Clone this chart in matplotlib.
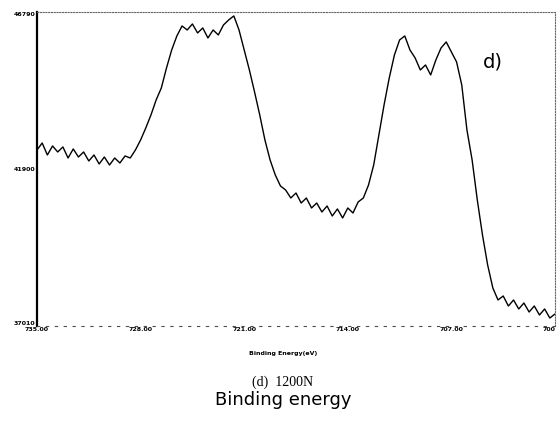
import numpy as np
import matplotlib.pyplot as plt

# binding energy scan, 0.35 eV steps from 735 down to 700 eV
energy = np.linspace(735.0, 700.0, 101)

# measured counts at each step
counts = [
    42492, 42710, 42337, 42617, 42430, 42586, 42243, 42524, 42274, 42430,
    42150, 42337, 42056, 42274, 42025, 42243, 42087, 42306, 42243, 42492,
    42804, 43178, 43583, 44050, 44424, 45047, 45607, 46044, 46355, 46230,
    46417, 46137, 46293, 45981, 46230, 46075, 46386, 46542, 46667, 46230,
    45607, 44984, 44299, 43583, 42804, 42181, 41714, 41371, 41246, 40997,
    41153, 40841, 40997, 40686, 40841, 40561, 40748, 40437, 40655, 40374,
    40686, 40530, 40873, 40997, 41402, 42025, 42960, 43894, 44735, 45452,
    45919, 46044, 45607, 45358, 44984, 45140, 44829, 45296, 45670, 45857,
    45545, 45234, 44517, 43115, 42181, 40935, 39845, 38910, 38194, 37820,
    37945, 37633, 37820, 37540, 37726, 37446, 37633, 37353, 37540, 37259,
    37384,
]

x_ticks = [735.0, 728.0, 721.0, 714.0, 707.0, 700.0]
x_tick_labels = ["735.00", "728.00", "721.00", "714.00", "707.00", "700"]
y_ticks = [37010, 41900, 46790]
y_tick_labels = ["37010", "41900", "46790"]

fig = plt.figure(figsize=(5.59, 4.25), dpi=100)
ax = fig.add_axes([37 / 559, 1 - 326 / 425, 518 / 559, 314 / 425])

ax.plot(energy, counts, color="black", lw=1.0)

ax.set_xlim(735.0, 700.0)
ax.set_ylim(37010, 46790)
ax.set_xticks(x_ticks)
ax.set_xticklabels(x_tick_labels, fontsize=4.5, fontweight="bold")
ax.set_yticks(y_ticks)
ax.set_yticklabels(y_tick_labels, fontsize=4.5, fontweight="bold")
ax.tick_params(length=0, pad=1)

xlabels = ax.get_xticklabels()
xlabels[-1].set_ha("right")
ylabels = ax.get_yticklabels()
ylabels[0].set_va("bottom")
ylabels[-1].set_va("top")

# scanned-style frame: solid left edge, broken dotted others
ax.spines["left"].set_linewidth(1.6)
for side in ["top", "right"]:
    ax.spines[side].set_linestyle((0, (1, 1.5)))
    ax.spines[side].set_linewidth(0.8)
    ax.spines[side].set_color("0.4")
ax.spines["bottom"].set_linestyle((0, (2, 6)))
ax.spines["bottom"].set_linewidth(0.8)
ax.spines["bottom"].set_color("0.3")

ax.text(0.88, 0.84, "d)", transform=ax.transAxes, fontsize=14,
        ha="center", va="center")

fig.text(283 / 559, 1 - 353 / 425, "Binding Energy(eV)", fontsize=4.5,
         fontweight="bold", ha="center", va="center")
fig.text(283 / 559, 1 - 382 / 425, "(d)  1200N", fontsize=10,
         family="Liberation Serif", ha="center", va="center")
fig.text(283 / 559, 1 - 400 / 425, "Binding energy", fontsize=13,
         ha="center", va="center")

fig.savefig("out.png", dpi=100)
